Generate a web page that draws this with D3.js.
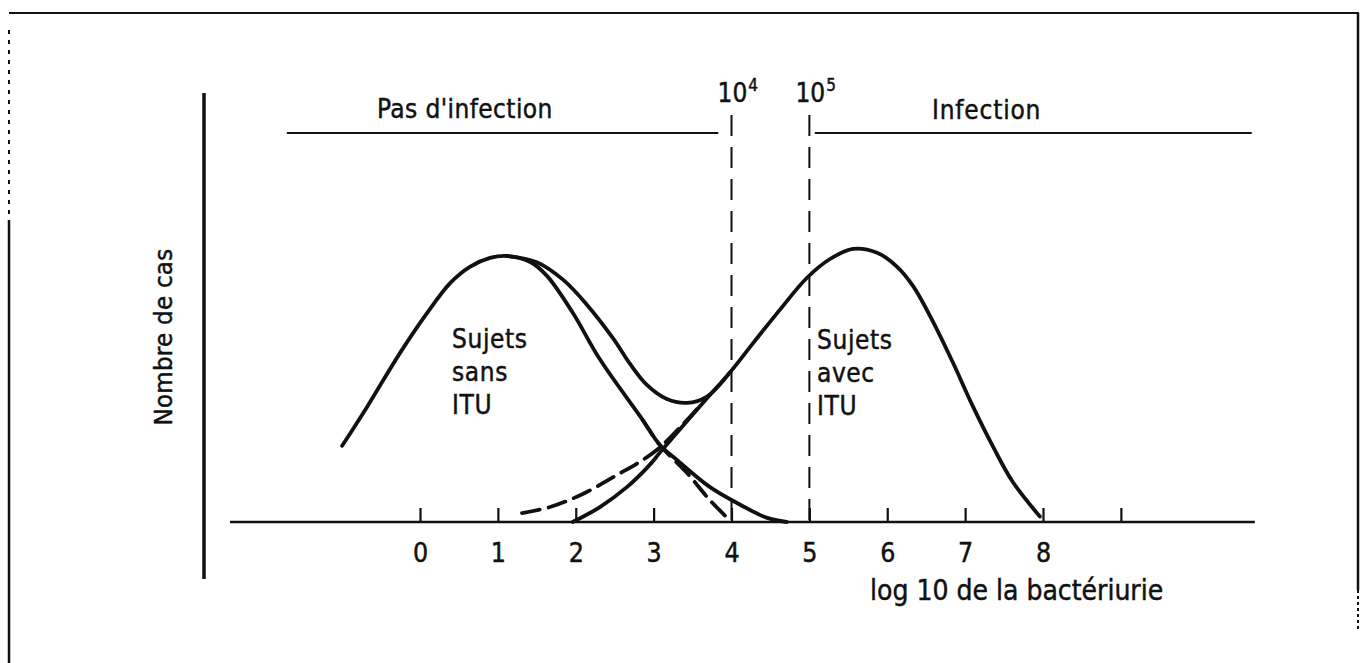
<!DOCTYPE html>
<html>
<head>
<meta charset="utf-8">
<script src="https://cdn.jsdelivr.net/npm/d3@7"></script>
<style>
  html, body { margin: 0; padding: 0; background: #fff; }
  svg { display: block; }
  text { font-family: "DejaVu Sans Condensed", "DejaVu Sans", sans-serif; fill: #111; stroke: #111; stroke-width: 0.45; }
</style>
</head>
<body>
<svg id="chart" width="1366" height="663"></svg>
<script>
// data (x = log10 bacteriuria, y = relative number of cases)
const tickValues = [0, 1, 2, 3, 4, 5, 6, 7, 8, 9];
const tickLabels = ['0', '1', '2', '3', '4', '5', '6', '7', '8', ''];
const thresholds = [4, 5];
const thresholdExp = ['4', '5'];

// subjects without UTI (solid)
const sansX = [-1.0, -0.68, -0.26, 0.09, 0.39, 0.64, 0.9, 1.12, 1.41, 1.63, 1.96, 2.31, 2.86, 3.08, 3.3, 3.72, 4.07, 4.45, 4.71];
const sansY = [28, 42.3, 62, 76.8, 87.9, 93.8, 97.1, 97.8, 95.7, 90.5, 77, 59.8, 37.5, 28.3, 22.8, 12.9, 7, 1.6, 0];

// subjects with UTI (solid)
const avecX = [1.96, 2.31, 2.66, 2.95, 3.08, 3.38, 3.68, 3.98, 4.27, 4.62, 4.97, 5.26, 5.56, 5.87, 6.12, 6.33, 6.59, 6.84, 7.1, 7.36, 7.61, 7.96];
const avecY = [0, 5.5, 12.9, 21, 25.5, 35.5, 45.3, 55, 65.5, 78, 89.8, 96.6, 100.4, 99, 94, 86.8, 73.5, 58.8, 42.5, 27.6, 14.8, 2];

// observed total (solid, between the two peaks)
const totalX = [1.12, 1.5, 1.84, 2.14, 2.48, 2.7, 2.91, 3.17, 3.43, 3.68, 3.98];
const totalY = [97.8, 95.5, 89, 80, 67.5, 58, 50.5, 45.2, 43.8, 46, 55];

// alternative tails (dashed)
const sansTailX = [2.86, 3.08, 3.43, 3.72, 3.98];
const sansTailY = [37.5, 28.3, 18, 8.1, 0.6];
const avecTailX = [1.31, 1.67, 2.09, 2.53, 2.86, 3.08, 3.38, 3.62];
const avecTailY = [3.3, 5.5, 10.3, 17.3, 22.8, 27.4, 36, 43.5];

// layout
const H = 663;
const AXIS_Y = 522;
const CURVE_W = 3.8;
const FONT = '"DejaVu Sans Condensed", "DejaVu Sans", sans-serif';

const svg = d3.select('#chart');

const x = d3.scaleLinear().domain([0, 8]).range([420, 1043]);
const y = d3.scaleLinear().domain([0, 100]).range([AXIS_Y, 250]);

// frame of the scanned figure
const frame = svg.append('g').attr('stroke', '#111').attr('fill', 'none');
frame.append('line').attr('x1', 9).attr('x2', 1359).attr('y1', 13).attr('y2', 13).attr('stroke-width', 2);
frame.append('line').attr('x1', 1358).attr('x2', 1358).attr('y1', 13).attr('y2', 590).attr('stroke-width', 2.5);
frame.append('line').attr('x1', 1358).attr('x2', 1358).attr('y1', 590).attr('y2', 632)
  .attr('stroke-width', 2).attr('stroke-dasharray', '3,3');
frame.append('line').attr('x1', 9).attr('x2', 9).attr('y1', 30).attr('y2', 220)
  .attr('stroke-width', 2).attr('stroke-dasharray', '4,6');
frame.append('line').attr('x1', 9).attr('x2', 9).attr('y1', 220).attr('y2', H).attr('stroke-width', 2.5);

// y axis (bare line) and its title
svg.append('line')
  .attr('x1', 204).attr('x2', 204).attr('y1', 93).attr('y2', 579)
  .attr('stroke', '#111').attr('stroke-width', 3.5);

svg.append('text')
  .attr('transform', 'translate(172,337) rotate(-90)')
  .attr('text-anchor', 'middle')
  .attr('font-size', 25.5)
  .attr('letter-spacing', 0.3)
  .text('Nombre de cas');

// x axis
const xAxis = d3.axisBottom(x)
  .tickValues(tickValues)
  .tickFormat((d, i) => tickLabels[i])
  .tickSizeInner(-14)
  .tickSizeOuter(0)
  .tickPadding(21);

const gx = svg.append('g')
  .attr('transform', `translate(0,${AXIS_Y})`)
  .call(xAxis);
gx.select('.domain').remove();
gx.selectAll('.tick line').attr('stroke', '#111').attr('stroke-width', 2.2);
gx.selectAll('.tick text')
  .attr('font-family', FONT)
  .attr('font-size', 26.5)
  .attr('fill', '#111')
  .attr('dy', '0.72em');

svg.append('line')
  .attr('x1', x(-2.44)).attr('x2', x(10.72))
  .attr('y1', AXIS_Y).attr('y2', AXIS_Y)
  .attr('stroke', '#111').attr('stroke-width', 2.6);

svg.append('text')
  .attr('x', 870).attr('y', 600)
  .attr('font-size', 28)
  .text('log 10 de la bactériurie');

// header: no infection / infection
svg.append('line')
  .attr('x1', x(-1.71)).attr('x2', x(3.83)).attr('y1', 133).attr('y2', 133)
  .attr('stroke', '#111').attr('stroke-width', 2);
svg.append('line')
  .attr('x1', x(5.07)).attr('x2', x(10.68)).attr('y1', 133).attr('y2', 133)
  .attr('stroke', '#111').attr('stroke-width', 2);

svg.append('text')
  .attr('x', 377).attr('y', 118)
  .attr('font-size', 26)
  .attr('letter-spacing', 0.4)
  .text("Pas d'infection");
svg.append('text')
  .attr('x', 932).attr('y', 119)
  .attr('font-size', 26)
  .attr('letter-spacing', 0.8)
  .text('Infection');

// threshold lines 10^4 / 10^5
svg.selectAll('line.threshold')
  .data(thresholds)
  .join('line')
  .attr('class', 'threshold')
  .attr('x1', d => x(d)).attr('x2', d => x(d))
  .attr('y1', 115).attr('y2', AXIS_Y)
  .attr('stroke', '#111')
  .attr('stroke-width', 2)
  .attr('stroke-dasharray', '21,11');

const thLabels = svg.selectAll('text.thlabel')
  .data(thresholds)
  .join('text')
  .attr('class', 'thlabel')
  .attr('x', d => x(d) - 14)
  .attr('y', 102)
  .attr('font-size', 26);
thLabels.append('tspan').text('10');
thLabels.append('tspan')
  .attr('font-size', 17)
  .attr('dy', -11)
  .attr('dx', 1)
  .text((d, i) => thresholdExp[i]);

// curves
const line = d3.line()
  .x(d => x(d[0]))
  .y(d => y(d[1]))
  .curve(d3.curveCatmullRom.alpha(0.5));

const zipXY = (xs, ys) => xs.map((v, i) => [v, ys[i]]);

const curves = [
  { pts: zipXY(sansX, sansY), dash: null },
  { pts: zipXY(avecX, avecY), dash: null },
  { pts: zipXY(totalX, totalY), dash: null },
  { pts: zipXY(sansTailX, sansTailY), dash: '18,9' },
  { pts: zipXY(avecTailX, avecTailY), dash: '18,9' }
];

svg.append('g')
  .selectAll('path')
  .data(curves)
  .join('path')
  .attr('d', d => line(d.pts))
  .attr('fill', 'none')
  .attr('stroke', '#111')
  .attr('stroke-width', CURVE_W)
  .attr('stroke-linecap', 'round')
  .attr('stroke-linejoin', 'round')
  .attr('stroke-dasharray', d => d.dash);

// curve labels
const labelSans = ['Sujets', 'sans', 'ITU'];
const labelAvec = ['Sujets', 'avec', 'ITU'];

function stackLabel(lines, x0, y0) {
  svg.append('g').selectAll('text')
    .data(lines)
    .join('text')
    .attr('x', x0)
    .attr('y', (d, i) => y0 + i * 33)
    .attr('font-size', 26)
    .attr('letter-spacing', 0.6)
    .text(d => d);
}
stackLabel(labelSans, 452, 348);
stackLabel(labelAvec, 817, 349);
</script>
</body>
</html>
